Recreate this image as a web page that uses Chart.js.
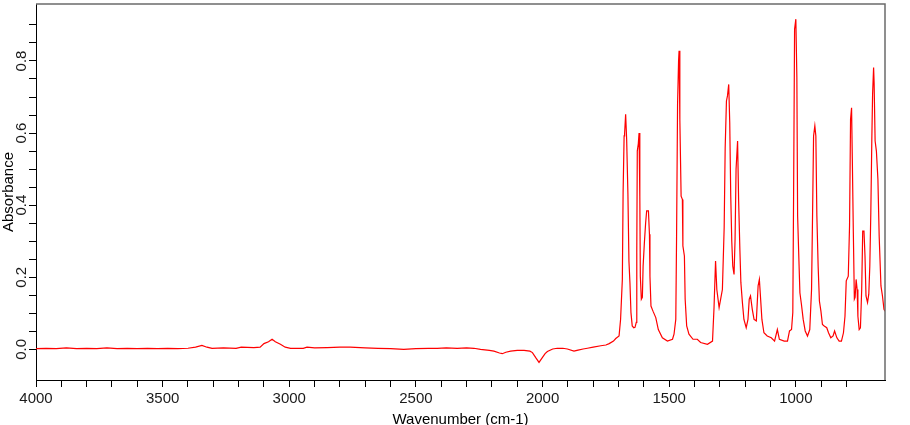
<!DOCTYPE html>
<html>
<head>
<meta charset="utf-8">
<script src="https://cdn.jsdelivr.net/npm/chart.js@4.4.0/dist/chart.umd.min.js"></script>
<style>
  html, body { margin: 0; padding: 0; background: #fff; }
  #spectrum { display: block; }
</style>
</head>
<body>
<canvas id="spectrum" width="910" height="425"></canvas>
<script>
// wavenumber (cm-1), high to low
const wavenumbers = [
  4000, 3960, 3920, 3880, 3840, 3800, 3760, 3720, 3680, 3640, 3600, 3560, 3520, 3480, 3440, 3400,
  3370, 3345, 3325, 3305, 3260, 3210, 3190, 3140, 3115, 3100, 3082, 3068, 3055, 3035, 3016, 2995,
  2945, 2930, 2900, 2850, 2800, 2760, 2700, 2650, 2600, 2548, 2500, 2450, 2416, 2380, 2337, 2300,
  2271, 2245, 2210, 2192, 2170, 2159, 2145, 2126, 2100, 2073, 2050, 2040, 2027, 2014, 2001, 1990,
  1981, 1960, 1942, 1920, 1902, 1876, 1860, 1840, 1823, 1800, 1770, 1750, 1737, 1720, 1711, 1698,
  1692, 1685, 1682, 1678, 1676, 1672, 1668, 1663, 1659, 1655, 1651, 1646, 1640, 1635, 1630, 1628,
  1626, 1622, 1619, 1616, 1614, 1610, 1606, 1603, 1598, 1593, 1589, 1582, 1578, 1576, 1572, 1564,
  1553, 1543, 1527, 1507, 1487, 1481, 1474, 1471, 1467, 1463, 1461, 1458, 1453, 1448, 1446, 1440,
  1437, 1431, 1422, 1406, 1389, 1376, 1349, 1329, 1323, 1317, 1312, 1303, 1296, 1290, 1283, 1279,
  1274, 1270, 1265, 1261, 1257, 1253, 1249, 1244, 1240, 1236, 1230, 1226, 1221, 1217, 1211, 1205,
  1196, 1189, 1184, 1179, 1172, 1165, 1156, 1149, 1144, 1139, 1134, 1126, 1113, 1097, 1084, 1073,
  1065, 1046, 1033, 1025, 1017, 1012, 1009, 1005, 1000, 996, 993, 988, 984, 978, 971, 963,
  954, 945, 938, 934, 930, 925, 921, 917, 912, 907, 901, 895, 888, 878, 871, 862,
  853, 847, 838, 829, 820, 812, 806, 801, 793, 788, 784, 780, 777, 773, 769, 766,
  762, 758, 755, 750, 745, 740, 736, 731, 727, 723, 717, 712, 708, 704, 700, 697,
  693, 691, 687, 682, 676, 671, 664, 658, 652, 648
];

const absorbance = [
  0.002, 0.003, 0.002, 0.004, 0.002, 0.003, 0.002, 0.004, 0.002, 0.003, 0.002, 0.003, 0.002, 0.003, 0.002, 0.003,
  0.006, 0.011, 0.006, 0.003, 0.004, 0.003, 0.006, 0.005, 0.006, 0.016, 0.021, 0.028, 0.021, 0.014, 0.006, 0.003,
  0.003, 0.006, 0.004, 0.005, 0.006, 0.006, 0.004, 0.003, 0.002, 0.000, 0.002, 0.003, 0.003, 0.004, 0.003, 0.004,
  0.003, 0.000, -0.003, -0.005, -0.010, -0.012, -0.008, -0.005, -0.003, -0.003, -0.005, -0.009, -0.023, -0.036, -0.023, -0.012,
  -0.006, 0.001, 0.003, 0.003, 0.001, -0.005, -0.002, 0.001, 0.003, 0.006, 0.010, 0.012, 0.016, 0.023, 0.030, 0.037,
  0.083, 0.194, 0.435, 0.592, 0.600, 0.652, 0.583, 0.430, 0.245, 0.185, 0.102, 0.065, 0.060, 0.061, 0.075, 0.268,
  0.550, 0.570, 0.600, 0.425, 0.203, 0.139, 0.144, 0.231, 0.296, 0.351, 0.384, 0.384, 0.319, 0.203, 0.120, 0.106,
  0.088, 0.055, 0.032, 0.023, 0.028, 0.042, 0.083, 0.305, 0.680, 0.800, 0.828, 0.638, 0.425, 0.416, 0.287, 0.259,
  0.139, 0.065, 0.042, 0.028, 0.028, 0.019, 0.014, 0.023, 0.116, 0.245, 0.166, 0.116, 0.143, 0.166, 0.338, 0.560,
  0.689, 0.703, 0.735, 0.629, 0.425, 0.300, 0.231, 0.208, 0.305, 0.500, 0.578, 0.416, 0.277, 0.185, 0.130, 0.083,
  0.060, 0.083, 0.139, 0.148, 0.111, 0.083, 0.079, 0.176, 0.194, 0.139, 0.083, 0.046, 0.037, 0.032, 0.023, 0.055,
  0.028, 0.023, 0.023, 0.051, 0.055, 0.102, 0.416, 0.888, 0.916, 0.754, 0.370, 0.250, 0.157, 0.125, 0.083, 0.051,
  0.037, 0.055, 0.166, 0.375, 0.592, 0.620, 0.592, 0.370, 0.231, 0.134, 0.106, 0.069, 0.065, 0.060, 0.046, 0.032,
  0.037, 0.051, 0.032, 0.023, 0.023, 0.046, 0.092, 0.190, 0.203, 0.342, 0.638, 0.670, 0.527, 0.324, 0.139, 0.144,
  0.194, 0.166, 0.092, 0.055, 0.060, 0.166, 0.328, 0.328, 0.259, 0.148, 0.130, 0.153, 0.231, 0.379, 0.583, 0.708,
  0.782, 0.740, 0.578, 0.550, 0.472, 0.314, 0.176, 0.148, 0.111, 0.106
];

const xLabels = [4000, 3500, 3000, 2500, 2000, 1500, 1000];
const yLabels = [0.0, 0.2, 0.4, 0.6, 0.8];

const xTitle = 'Wavenumber (cm-1)';
const yTitle = 'Absorbance';

Chart.defaults.font.family = "'Liberation Sans', Arial, sans-serif";
Chart.defaults.font.size = 15;
Chart.defaults.color = '#1a1a1a';

const onStep = (v, step) => Math.abs(v / step - Math.round(v / step)) < 1e-6;

// top and right edges of the plot box
const framePlugin = {
  id: 'frame',
  afterDraw(chart) {
    const { ctx, chartArea: a } = chart;
    ctx.save();
    ctx.strokeStyle = '#6b6b6b';
    ctx.lineWidth = 1.5;
    ctx.beginPath();
    ctx.moveTo(a.left, a.top);
    ctx.lineTo(a.right, a.top);
    ctx.lineTo(a.right, a.bottom);
    ctx.stroke();
    ctx.restore();
  }
};

const points = wavenumbers.map((w, i) => ({ x: w, y: absorbance[i] }));

new Chart(document.getElementById('spectrum').getContext('2d'), {
  type: 'line',
  data: {
    datasets: [{
      data: points,
      borderColor: '#ff0000',
      borderWidth: 1.2,
      pointRadius: 0,
      tension: 0,
      fill: false
    }]
  },
  options: {
    responsive: false,
    animation: false,
    layout: { padding: { top: 4, right: 25, left: 0, bottom: 0 } },
    plugins: {
      legend: { display: false },
      tooltip: { enabled: false }
    },
    scales: {
      x: {
        type: 'linear',
        reverse: true,
        min: 648,
        max: 4000,
        border: { color: '#000', width: 1 },
        grid: { drawOnChartArea: false, drawTicks: true, tickLength: 7, color: '#000' },
        ticks: {
          stepSize: 100,
          autoSkip: false,
          maxRotation: 0,
          padding: 3,
          callback: (v) => (xLabels.includes(Math.round(v)) && onStep(v, 100) ? String(v) : '')
        },
        afterBuildTicks: (axis) => { axis.ticks = axis.ticks.filter(t => onStep(t.value, 100)); },
        afterFit: (axis) => { axis.height = 45; axis.paddingLeft = 0; axis.paddingRight = 0; },
        title: { display: true, text: xTitle, color: '#000', padding: { top: 0, bottom: -4 } }
      },
      y: {
        min: -0.085,
        max: 0.958,
        border: { color: '#000', width: 1 },
        grid: { drawOnChartArea: false, drawTicks: true, tickLength: 7, color: '#000' },
        ticks: {
          stepSize: 0.05,
          autoSkip: false,
          minRotation: 90,
          maxRotation: 90,
          crossAlign: 'center',
          padding: -3,
          callback: (v) => {
            const hit = yLabels.find(l => Math.abs(l - v) < 1e-6);
            return hit === undefined ? '' : hit.toFixed(1);
          }
        },
        afterBuildTicks: (axis) => { axis.ticks = axis.ticks.filter(t => onStep(t.value, 0.05)); },
        afterFit: (axis) => { axis.width = 36; axis.paddingTop = 0; axis.paddingBottom = 0; },
        title: { display: true, text: yTitle, color: '#000', padding: { top: 0, bottom: 0 } }
      }
    }
  },
  plugins: [framePlugin]
});
</script>
</body>
</html>
